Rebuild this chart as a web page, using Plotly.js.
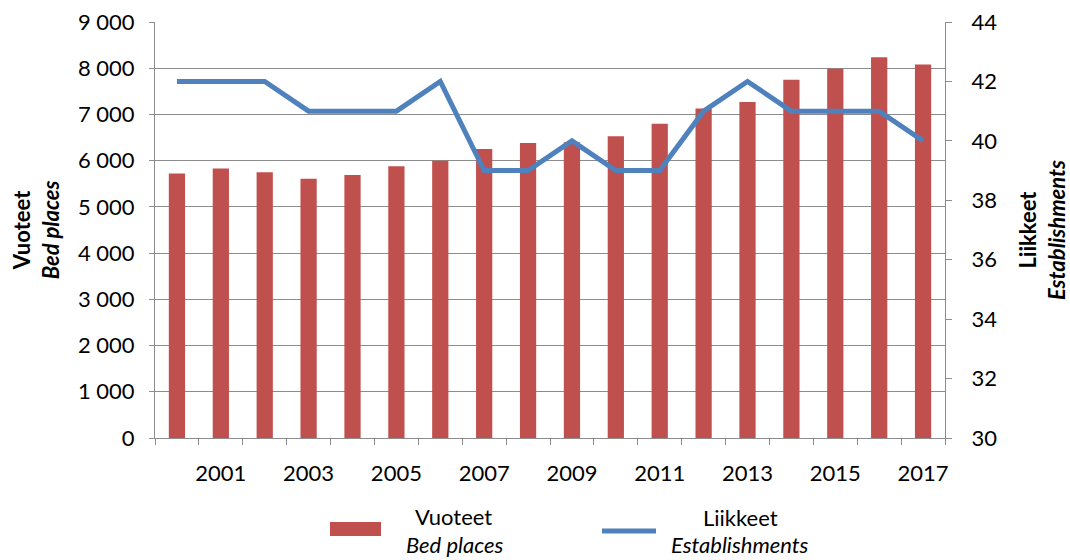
<!DOCTYPE html>
<html>
<head>
<meta charset="utf-8">
<script src="https://cdn.plot.ly/plotly-3.0.1.min.js"></script>
<style>body{margin:0;background:#fff}#chart{width:1070px;height:560px}</style>
</head>
<body>
<div id="chart"></div>
<script>
const years = [2000,2001,2002,2003,2004,2005,2006,2007,2008,2009,2010,2011,2012,2013,2014,2015,2016,2017];
const bedPlaces = [5720,5830,5750,5610,5690,5880,6000,6250,6380,6400,6530,6800,7130,7270,7750,7990,8240,8080];
const establishments = [42,42,42,41,41,41,42,39,39,40,39,39,41,42,41,41,41,40];
const leftTicks = [0,1000,2000,3000,4000,5000,6000,7000,8000,9000];
const rightTicks = [30,32,34,36,38,40,42,44];
const xTickYears = [2001,2003,2005,2007,2009,2011,2013,2015,2017];
const seriesFi = ['Vuoteet', 'Liikkeet'];
const seriesEn = ['Bed places', 'Establishments'];

const FONT = 'Lato, "Open Sans", sans-serif';
const GRID = '#8c8c8c';
const RED = '#C0504D';
const BLUE = '#4F81BD';

const traces = [
  {
    type: 'bar', x: years, y: bedPlaces,
    name: seriesFi[0] + ' / ' + seriesEn[0],
    marker: {color: RED},
    yaxis: 'y', showlegend: false
  },
  {
    type: 'scatter', mode: 'lines', x: years, y: establishments,
    name: seriesFi[1] + ' / ' + seriesEn[1],
    line: {color: BLUE, width: 5},
    yaxis: 'y2', showlegend: false
  }
];

// custom legend (paper coords) matching the reference layout
const W = 790, H = 416, L = 155, T = 22;
const px = x => (x - L) / W;
const py = y => 1 - (y - T) / H;

const shapes = [
  {type: 'rect', xref: 'paper', yref: 'paper', x0: px(330), x1: px(381), y0: py(536), y1: py(522),
   fillcolor: RED, line: {width: 0}},
  {type: 'line', xref: 'paper', yref: 'paper', x0: px(602), x1: px(656), y0: py(531), y1: py(531),
   line: {color: BLUE, width: 5, cap: 'round'}}
];
const annotations = [
  {xref: 'paper', yref: 'paper', x: px(453), y: py(516), text: seriesFi[0], showarrow: false,
   xanchor: 'center', yanchor: 'middle', font: {family: FONT, size: 22}},
  {xref: 'paper', yref: 'paper', x: px(455), y: py(544), text: '<i>' + seriesEn[0] + '</i>', showarrow: false,
   xanchor: 'center', yanchor: 'middle', font: {family: FONT, size: 22}},
  {xref: 'paper', yref: 'paper', x: px(740), y: py(517), text: seriesFi[1], showarrow: false,
   xanchor: 'center', yanchor: 'middle', font: {family: FONT, size: 22}},
  {xref: 'paper', yref: 'paper', x: px(740), y: py(544), text: '<i>' + seriesEn[1] + '</i>', showarrow: false,
   xanchor: 'center', yanchor: 'middle', font: {family: FONT, size: 22}}
];

const layout = {
  width: 1070, height: 560,
  margin: {l: 155, r: 125, t: 22, b: 122},
  paper_bgcolor: '#fff', plot_bgcolor: '#fff',
  font: {family: FONT, size: 22, color: '#000'},
  separators: ', ',
  bargap: 0.63,
  showlegend: false,
  shapes: shapes,
  annotations: annotations,
  xaxis: {
    type: 'linear', range: [1999.5, 2017.5],
    tickmode: 'array', tickvals: xTickYears, ticktext: xTickYears.map(String),
    ticks: '', showgrid: false, zeroline: false,
    showline: true, linecolor: GRID, linewidth: 1,
    ticklabelstandoff: 16,
    tickfont: {size: 22},
    minor: {tick0: 1999.5, dtick: 1, ticks: 'outside', ticklen: 6, tickcolor: GRID, showgrid: false}
  },
  yaxis: {
    range: [0, 9000], tickmode: 'array', tickvals: leftTicks,
    tickformat: ',d', separatethousands: true,
    showgrid: true, gridcolor: GRID, gridwidth: 1, zeroline: false,
    showline: true, linecolor: GRID, ticks: 'outside', ticklen: 5, tickcolor: GRID,
    ticklabelstandoff: 10,
    tickfont: {size: 22},
    title: {text: '<b>Vuoteet</b><br><b><i>Bed places</i></b>', font: {size: 22}, standoff: 12}
  },
  yaxis2: {
    overlaying: 'y', side: 'right', range: [30, 44], tickmode: 'array', tickvals: rightTicks,
    showgrid: false, zeroline: false,
    showline: true, linecolor: GRID, ticks: 'outside', ticklen: 6, tickcolor: GRID,
    ticklabelstandoff: 15,
    tickfont: {size: 22},
    title: {text: '<b>Liikkeet</b><br><b><i>Establishments</i></b>', font: {size: 22}, standoff: 24}
  }
};

Plotly.newPlot('chart', traces, layout, {displayModeBar: false, staticPlot: true});
</script>
</body>
</html>
